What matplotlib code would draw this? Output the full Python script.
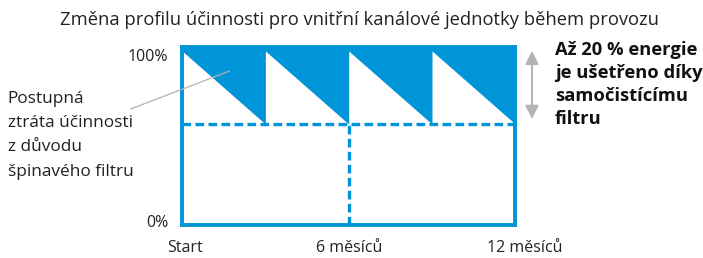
import matplotlib
matplotlib.use("Agg")
import matplotlib.pyplot as plt
from matplotlib.transforms import ScaledTranslation

# ---- data ----
tooth_starts = [0, 3, 6, 9]
tooth_ends = [3, 6, 9, 12]
peak_pct = 100
trough_pct = 58
x_ticks = [0, 6, 12]
x_tick_labels = ["Start", "6 měsíců", "12 měsíců"]
y_ticks = [0, 100]
y_tick_labels = ["0%", "100%"]
title = "Změna profilu účinnosti pro vnitřní kanálové jednotky během provozu"
left_note = "Postupná\nztráta účinnosti\nz důvodu\nšpinavého filtru"
right_note = "Až 20 % energie\nje ušetřeno díky\nsamočistícímu\nfiltru"

BLUE = "#0095d9"
GRAY = "#b3b3b3"
TXT = "#222222"

plt.rcParams["font.family"] = ["Open Sans", "DejaVu Sans"]

fig = plt.figure(figsize=(7.03, 2.58), dpi=100)
ax = fig.add_axes([0.259, 0.128, 0.474, 0.690])
ymax = 102.3
ax.set_xlim(0, 12)
ax.set_ylim(0, ymax)

# sawtooth
xs, ys = [], []
for s, e in zip(tooth_starts, tooth_ends):
    xs += [s, e]
    ys += [peak_pct, trough_pct]
ax.fill_between(xs, ys, ymax, color=BLUE, linewidth=0)

# dashed lines
ax.plot([0, 12], [trough_pct, trough_pct], color=BLUE, lw=2.4, ls=(0, (2.6, 1.3)))
ax.plot([6, 6], [0, trough_pct], color=BLUE, lw=2.4, ls=(0, (2.6, 1.3)))

for sp in ax.spines.values():
    sp.set_color(BLUE)
    sp.set_linewidth(2.8)

ax.set_xticks(x_ticks)
ax.set_xticklabels(x_tick_labels, fontsize=11.5, color=TXT)
ax.set_yticks([y_ticks[0] + 2, y_ticks[1] - 2.5])
ax.set_yticklabels(y_tick_labels, fontsize=11.5, color=TXT)
ax.tick_params(length=0, pad=10)
ax.tick_params(axis="x", pad=11)
offsets = [3, 0, 9]
for lab, dx in zip(ax.get_xticklabels(), offsets):
    lab.set_transform(lab.get_transform() + ScaledTranslation(dx / 100, 0, fig.dpi_scale_trans))

fig.text(0.511, 0.922, title, ha="center", va="center", fontsize=13.2, color=TXT)

# left note with leader line
fig.text(0.011, 0.476, left_note, ha="left", va="center", fontsize=12.4,
         color=TXT, linespacing=1.70)
ax.annotate("", xy=(1.8, 89), xycoords="data",
            xytext=(128 / 703, 1 - 110 / 258), textcoords="figure fraction",
            arrowprops=dict(arrowstyle="-", color=GRAY, lw=0.9))

# right double arrow
ax.annotate("", xy=(1.05, 0.994), xycoords="axes fraction",
            xytext=(1.05, 0.58), textcoords="axes fraction",
            arrowprops=dict(arrowstyle="<|-|>", color=GRAY, lw=1.4,
                            mutation_scale=20))

fig.text(0.789, 0.672, right_note, ha="left", va="center", fontsize=13.2,
         fontweight="bold", color="#111111", linespacing=1.37)

fig.savefig("out.png", dpi=100)
